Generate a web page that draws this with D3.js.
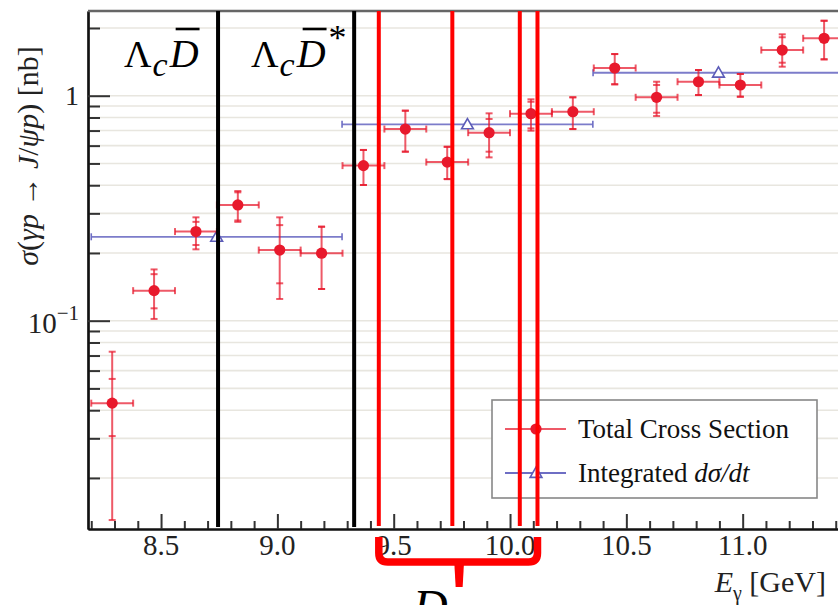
<!DOCTYPE html>
<html><head><meta charset="utf-8">
<script src="https://cdn.jsdelivr.net/npm/d3@7"></script>
<style>
body{margin:0;background:#fff}
svg{display:block}
svg text{font-family:"Liberation Serif","Times New Roman",serif}
</style></head><body>
<svg id="c" width="838" height="605"></svg>
<script>
// J/psi photoproduction cross section versus photon beam energy

// Total cross section per energy bin (nb), with statistical and total uncertainty bands
const energy = [8.29, 8.47, 8.65, 8.83, 9.01, 9.19, 9.37, 9.55, 9.73, 9.91, 10.09, 10.27, 10.45, 10.63, 10.81, 10.99, 11.17, 11.35];
const sigma  = [0.0430, 0.136, 0.249, 0.327, 0.206, 0.1995, 0.489, 0.711, 0.507, 0.685, 0.832, 0.849, 1.328, 0.984, 1.154, 1.116, 1.596, 1.80];
const statLo = [0.0307, 0.1135, 0.217, 0.279, 0.1466, 0.1383, 0.401, 0.564, 0.426, 0.564, 0.716, 0.711, 1.124, 0.840, 1.007, 0.990, 1.402, 1.451];
const statHi = [0.0551, 0.161, 0.275, 0.372, 0.266, 0.2617, 0.574, 0.858, 0.593, 0.788, 0.940, 0.984, 1.532, 1.116, 1.301, 1.249, 1.819, 2.154];
const totLo  = [0.0130, 0.1018, 0.2076, 0.275, 0.1249, 0.1383, 0.401, 0.564, 0.426, 0.532, 0.699, 0.711, 1.124, 0.812, 1.007, 0.990, 1.346, 1.451];
const totHi  = [0.0728, 0.169, 0.288, 0.377, 0.288, 0.2617, 0.574, 0.858, 0.593, 0.835, 0.964, 0.984, 1.532, 1.154, 1.301, 1.249, 1.875, 2.154];
const binHalfWidth = 0.09;

// Cross section from integrating dsigma/dt in three wide bins
const intCenter = [8.739, 9.817, 10.896];
const intValue  = [0.236, 0.746, 1.265];
const intHalfWidth = 0.539;

// Open-charm thresholds and marked energies
const thresholdBlack = [8.745, 9.33];
const thresholdRed   = [9.436, 9.752, 10.042, 10.118];

const xMajor = [8.5, 9.0, 9.5, 10.0, 10.5, 11.0];
const xMajorLabels = ["8.5", "9.0", "9.5", "10.0", "10.5", "11.0"];
const yMajor = [1, 0.1];

const RED = "#e8192c", BLUE = "#6e6ec4";

const svg = d3.select("#c");
const L = 88, T = 11, B = 529, R = 859;

const x = d3.scaleLinear().domain([8.186, 11.5]).range([L, R]);
const y = d3.scaleLog().domain([0.01186, 2.38]).range([B, T]);

// grid at every log tick
svg.append("g").selectAll("line").data(y.ticks()).join("line")
  .attr("x1", L).attr("x2", R).attr("y1", d => y(d)).attr("y2", d => y(d))
  .attr("stroke", "#e8e6df").attr("stroke-width", 1.6);

// y ticks, pointing inward
const yMinor = y.ticks().filter(v => !yMajor.some(m => Math.abs(m - v) < 1e-9));
const yAxMinor = svg.append("g").attr("transform", `translate(${L},0)`)
  .call(d3.axisRight(y).tickValues(yMinor).tickSize(12).tickSizeOuter(0).tickFormat(""));
const yAxMajor = svg.append("g").attr("transform", `translate(${L},0)`)
  .call(d3.axisRight(y).tickValues(yMajor).tickSize(22).tickSizeOuter(0).tickFormat(""));
[yAxMinor, yAxMajor].forEach(g => {
  g.selectAll(".tick line").attr("stroke", "#333").attr("stroke-width", 2);
  g.select(".domain").attr("stroke", "#111").attr("stroke-width", 2.2);
});

// y tick labels
svg.append("text").attr("x", 79).attr("y", y(1) + 9).attr("text-anchor", "end")
  .attr("font-size", 28).attr("fill", "#222").text("1");
const tenth = svg.append("text").attr("x", 79).attr("y", y(0.1) + 12).attr("text-anchor", "end")
  .attr("font-size", 29).attr("fill", "#222");
tenth.append("tspan").text("10");
tenth.append("tspan").attr("dy", -13).attr("font-size", 21).text("\u22121");

// x ticks, pointing upward
const xMinor = d3.range(82, 115).map(i => i / 10).filter(v => !xMajor.some(m => Math.abs(m - v) < 1e-9));
const xAxMinor = svg.append("g").attr("transform", `translate(0,${B})`)
  .call(d3.axisTop(x).tickValues(xMinor).tickSize(8).tickSizeOuter(0).tickFormat(""));
const xAxMajor = svg.append("g").attr("transform", `translate(0,${B})`)
  .call(d3.axisTop(x).tickValues(xMajor).tickSize(15).tickSizeOuter(0).tickFormat(""));
[xAxMinor, xAxMajor].forEach(g => {
  g.selectAll(".tick line").attr("stroke", "#333").attr("stroke-width", 2);
  g.select(".domain").attr("stroke", "#111").attr("stroke-width", 2.2);
});
// x tick labels
svg.append("g").selectAll("text").data(xMajor).join("text")
  .attr("x", d => x(d)).attr("y", 555).attr("text-anchor", "middle")
  .attr("font-size", 29).attr("fill", "#222")
  .text((d, i) => xMajorLabels[i]);

// top frame line
svg.append("line").attr("x1", L).attr("x2", R).attr("y1", T).attr("y2", T)
  .attr("stroke", "#666").attr("stroke-width", 2.4);

// axis titles
const yt = svg.append("text").attr("transform", "translate(38,156) rotate(-90)")
  .attr("text-anchor", "middle").attr("font-size", 30).attr("fill", "#222");
[["\u03c3", 1], ["(", 0], ["\u03b3p", 1], [" \u2192 ", 0], ["J", 1], ["/", 0], ["\u03c8p", 1], [")", 0], ["  [nb]", 0]]
  .forEach(([t, it]) => yt.append("tspan").attr("font-style", it ? "italic" : "normal").text(t));

const xt = svg.append("text").attr("x", 826).attr("y", 592).attr("text-anchor", "end")
  .attr("font-size", 30).attr("fill", "#222");
xt.append("tspan").attr("font-style", "italic").text("E");
xt.append("tspan").attr("font-size", 20).attr("dy", 8).text("\u03b3");
xt.append("tspan").attr("dy", -8).text(" [GeV]");

// integrated dsigma/dt points
const gi = svg.append("g");
intCenter.forEach((c, i) => {
  const yy = y(intValue[i]), x0 = x(c - intHalfWidth), x1 = x(c + intHalfWidth);
  gi.append("line").attr("x1", x0).attr("x2", x1).attr("y1", yy).attr("y2", yy)
    .attr("stroke", BLUE).attr("stroke-width", 1.8).attr("stroke-opacity", 0.9);
  [x0, x1].forEach(xe => gi.append("line").attr("x1", xe).attr("x2", xe).attr("y1", yy - 3.5).attr("y2", yy + 3.5)
    .attr("stroke", BLUE).attr("stroke-width", 1.6));
  gi.append("path").attr("d", d3.symbol(d3.symbolTriangle, 60)())
    .attr("transform", `translate(${x(c)},${yy + 1})`)
    .attr("fill", "#fff").attr("stroke", "#5c5cb8").attr("stroke-width", 1.6);
});

// total cross section points
const gp = svg.append("g");
const cap = 3.5;
energy.forEach((e, i) => {
  const cx = x(e), cy = y(sigma[i]);
  const xa = x(e - binHalfWidth), xb = x(e + binHalfWidth);
  const s = { stroke: RED, "stroke-width": 2, "stroke-opacity": 0.72 };
  const ln = (a, b, c, d) => { const l = gp.append("line").attr("x1", a).attr("y1", b).attr("x2", c).attr("y2", d); Object.entries(s).forEach(([k, v]) => l.attr(k, v)); };
  ln(xa, cy, xb, cy);
  ln(xa, cy - cap, xa, cy + cap);
  ln(xb, cy - cap, xb, cy + cap);
  ln(cx, y(totHi[i]), cx, y(totLo[i]));
  [totHi[i], totLo[i], statHi[i], statLo[i]].forEach(v => ln(cx - cap, y(v), cx + cap, y(v)));
  gp.append("circle").attr("cx", cx).attr("cy", cy).attr("r", 5.6).attr("fill", RED);
});

// legend
const lg = svg.append("g");
lg.append("rect").attr("x", 492).attr("y", 400).attr("width", 325).attr("height", 98)
  .attr("fill", "#fff").attr("stroke", "#888").attr("stroke-width", 1.6);
lg.append("line").attr("x1", 505).attr("x2", 566).attr("y1", 429).attr("y2", 429)
  .attr("stroke", RED).attr("stroke-width", 2).attr("stroke-opacity", 0.72);
lg.append("circle").attr("cx", 536).attr("cy", 429).attr("r", 5.6).attr("fill", RED);
lg.append("line").attr("x1", 505).attr("x2", 566).attr("y1", 473).attr("y2", 473)
  .attr("stroke", BLUE).attr("stroke-width", 1.8);
lg.append("path").attr("d", d3.symbol(d3.symbolTriangle, 60)())
  .attr("transform", "translate(536,474)").attr("fill", "#fff").attr("stroke", "#5c5cb8").attr("stroke-width", 1.6);
lg.append("text").attr("x", 578).attr("y", 438).attr("font-size", 27).attr("fill", "#111").text("Total Cross Section");
const l2 = lg.append("text").attr("x", 578).attr("y", 482).attr("font-size", 27).attr("fill", "#111");
l2.append("tspan").text("Integrated ");
l2.append("tspan").attr("font-style", "italic").text("d\u03c3/dt");

// threshold lines
thresholdBlack.forEach(e => svg.append("line").attr("x1", x(e)).attr("x2", x(e)).attr("y1", T).attr("y2", B - 2)
  .attr("stroke", "#000").attr("stroke-width", 4));
thresholdRed.forEach(e => svg.append("line").attr("x1", x(e)).attr("x2", x(e)).attr("y1", T).attr("y2", B - 3)
  .attr("stroke", "#ff0000").attr("stroke-width", 4));

// channel labels
function channel(x0, star) {
  const t = svg.append("text").attr("x", x0).attr("y", 67).attr("font-size", 38).attr("fill", "#000");
  t.append("tspan").text("\u039b");
  t.append("tspan").attr("font-style", "italic").attr("font-size", 34).attr("dy", 9).attr("dx", 1).text("c");
  const d = t.append("tspan").attr("font-style", "italic").attr("font-size", 40).attr("dy", -9).attr("dx", 2).text("D");
  const bb = d.node().getExtentOfChar(0);
  svg.append("line").attr("x1", bb.x + 6).attr("x2", bb.x + bb.width + 1).attr("y1", 29).attr("y2", 29)
    .attr("stroke", "#000").attr("stroke-width", 2.6);
  if (star) t.append("tspan").attr("font-size", 36).attr("dy", -17).attr("dx", 3).text("*");
}
channel(124, false);
channel(251, true);

// brace under the marked energy range
const xl = x(thresholdRed[0]), xr = x(thresholdRed[3]), xm = (xl + xr) / 2 + 1;
svg.append("path")
  .attr("d", `M${xl},537 L${xl},553 Q${xl},562 ${xl + 9},562 L${xr - 9},562 Q${xr},562 ${xr},553 L${xr},537`)
  .attr("fill", "none").attr("stroke", "#ff0000").attr("stroke-width", 7.5);
svg.append("path")
  .attr("d", `M${xm - 5},560 L${xm + 5},560 L${xm + 3.5},587 L${xm - 3.5},587 Z`)
  .attr("fill", "#ff0000");
svg.append("text").attr("x", 413).attr("y", 623).attr("font-size", 48).attr("font-style", "italic")
  .attr("fill", "#000").text("D");
</script>
</body></html>
